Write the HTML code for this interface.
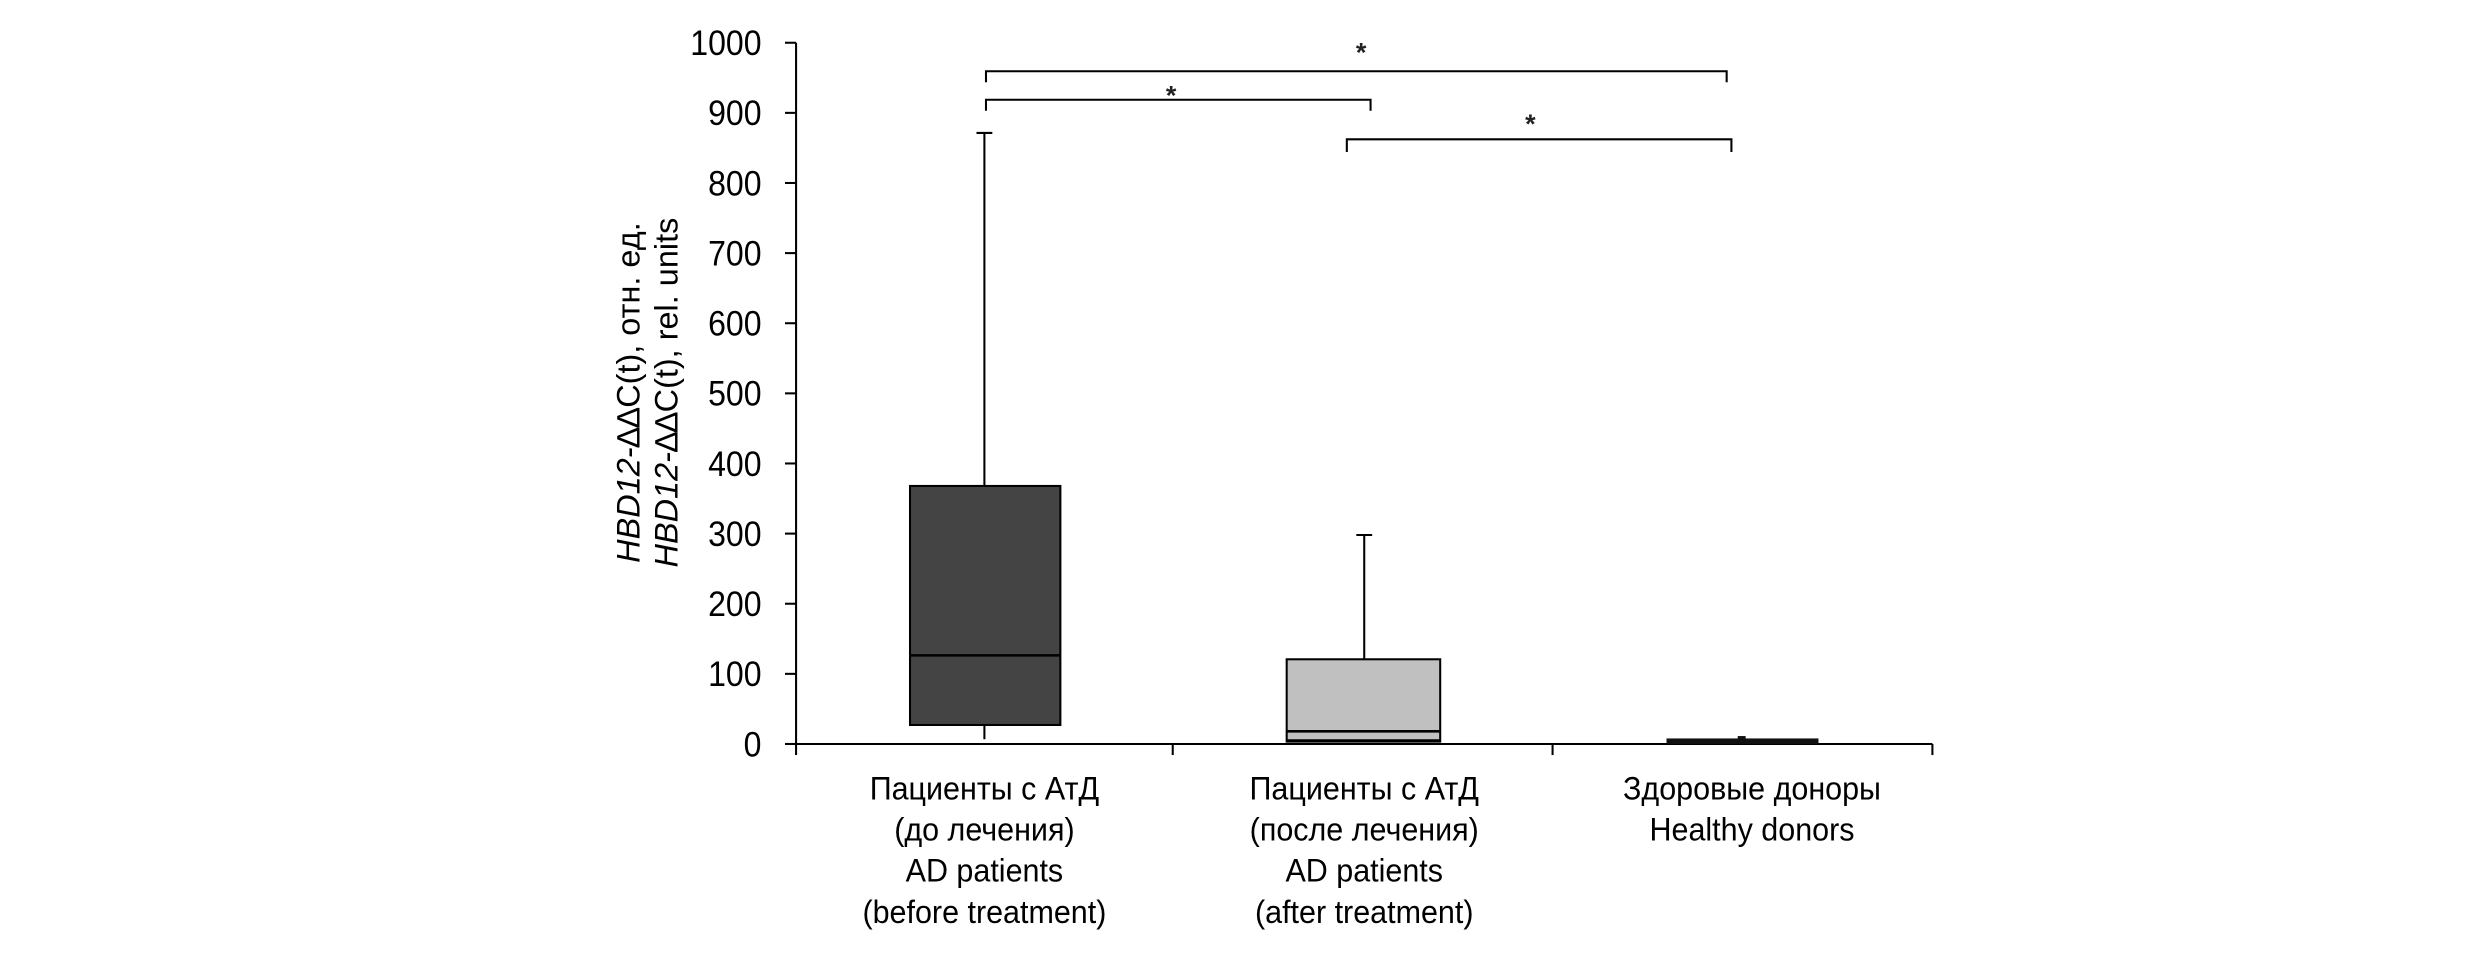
<!DOCTYPE html>
<html><head><meta charset="utf-8"><style>html,body{margin:0;padding:0;background:#fff}svg{display:block}</style></head>
<body>
<svg width="2480" height="964" viewBox="0 0 1567 609" preserveAspectRatio="none" xmlns="http://www.w3.org/2000/svg" font-family="'Liberation Sans', sans-serif">
<g stroke="#000" stroke-width="1.3" fill="none">
<line x1="503" y1="27" x2="503" y2="470"/>
<line x1="503" y1="470" x2="1221" y2="470"/>
<line x1="496" y1="27" x2="503" y2="27"/>
<line x1="496" y1="71.3" x2="503" y2="71.3"/>
<line x1="496" y1="115.6" x2="503" y2="115.6"/>
<line x1="496" y1="159.9" x2="503" y2="159.9"/>
<line x1="496" y1="204.2" x2="503" y2="204.2"/>
<line x1="496" y1="248.5" x2="503" y2="248.5"/>
<line x1="496" y1="292.8" x2="503" y2="292.8"/>
<line x1="496" y1="337.1" x2="503" y2="337.1"/>
<line x1="496" y1="381.4" x2="503" y2="381.4"/>
<line x1="496" y1="425.7" x2="503" y2="425.7"/>
<line x1="496" y1="470" x2="503" y2="470"/>
<line x1="503" y1="470" x2="503" y2="477"/>
<line x1="741" y1="470" x2="741" y2="477"/>
<line x1="981" y1="470" x2="981" y2="477"/>
<line x1="1221" y1="470" x2="1221" y2="477"/>
<line x1="622" y1="84" x2="622" y2="307"/>
<line x1="617" y1="84" x2="627" y2="84"/>
<line x1="622" y1="458" x2="622" y2="467"/>
<line x1="862" y1="338" x2="862" y2="416"/>
<line x1="857" y1="338" x2="867" y2="338"/>
<polyline points="623,52 623,45 1091,45 1091,52"/>
<polyline points="623,70 623,63 866,63 866,70"/>
<polyline points="851,96 851,88 1094,88 1094,96"/>
</g>
<rect x="575" y="307" width="95" height="151" fill="#444" stroke="#000" stroke-width="1.3"/>
<line x1="575" y1="414" x2="670" y2="414" stroke="#000" stroke-width="1.6"/>
<rect x="813" y="416.5" width="97" height="52" fill="#c0c0c0" stroke="#000" stroke-width="1.3"/>
<line x1="813" y1="462" x2="910" y2="462" stroke="#000" stroke-width="1.6"/>
<line x1="813" y1="468" x2="910" y2="468" stroke="#000" stroke-width="2"/>
<rect x="1053" y="466.5" width="96" height="3.5" fill="#111"/>
<rect x="1098" y="465" width="5" height="2" fill="#111"/>
<g font-size="17" font-weight="bold" text-anchor="middle" fill="#222">
<text x="860" y="39">*</text><text x="740" y="66">*</text><text x="967" y="84">*</text>
</g>
<g font-size="22" text-anchor="end" fill="#000" transform="scale(0.92,1)">
<text x="523" y="34.8">1000</text><text x="523" y="79.1">900</text><text x="523" y="123.4">800</text>
<text x="523" y="167.7">700</text><text x="523" y="212">600</text><text x="523" y="256.3">500</text>
<text x="523" y="300.6">400</text><text x="523" y="344.9">300</text><text x="523" y="389.2">200</text>
<text x="523" y="433.5">100</text><text x="523" y="477.8">0</text>
</g>
<g font-size="20.5" text-anchor="middle" fill="#000">
<text transform="translate(622,0) scale(0.94,1)"><tspan x="0" y="505">Пациенты с АтД</tspan><tspan x="0" y="531">(до лечения)</tspan><tspan x="0" y="557">AD patients</tspan><tspan x="0" y="583">(before treatment)</tspan></text>
<text transform="translate(862,0) scale(0.94,1)"><tspan x="0" y="505">Пациенты с АтД</tspan><tspan x="0" y="531">(после лечения)</tspan><tspan x="0" y="557">AD patients</tspan><tspan x="0" y="583">(after treatment)</tspan></text>
<text transform="translate(1107,0) scale(0.94,1)"><tspan x="0" y="505">Здоровые доноры</tspan><tspan x="0" y="531">Healthy donors</tspan></text>
</g>
<g font-size="20.5" text-anchor="middle" fill="#000">
<text transform="translate(404,248) rotate(-90)"><tspan font-style="italic">HBD12-</tspan>∆∆C(t), отн. ед.</text>
<text transform="translate(428,248) rotate(-90)"><tspan font-style="italic">HBD12-</tspan>∆∆C(t), rel. units</text>
</g>
</svg>
</body></html>
